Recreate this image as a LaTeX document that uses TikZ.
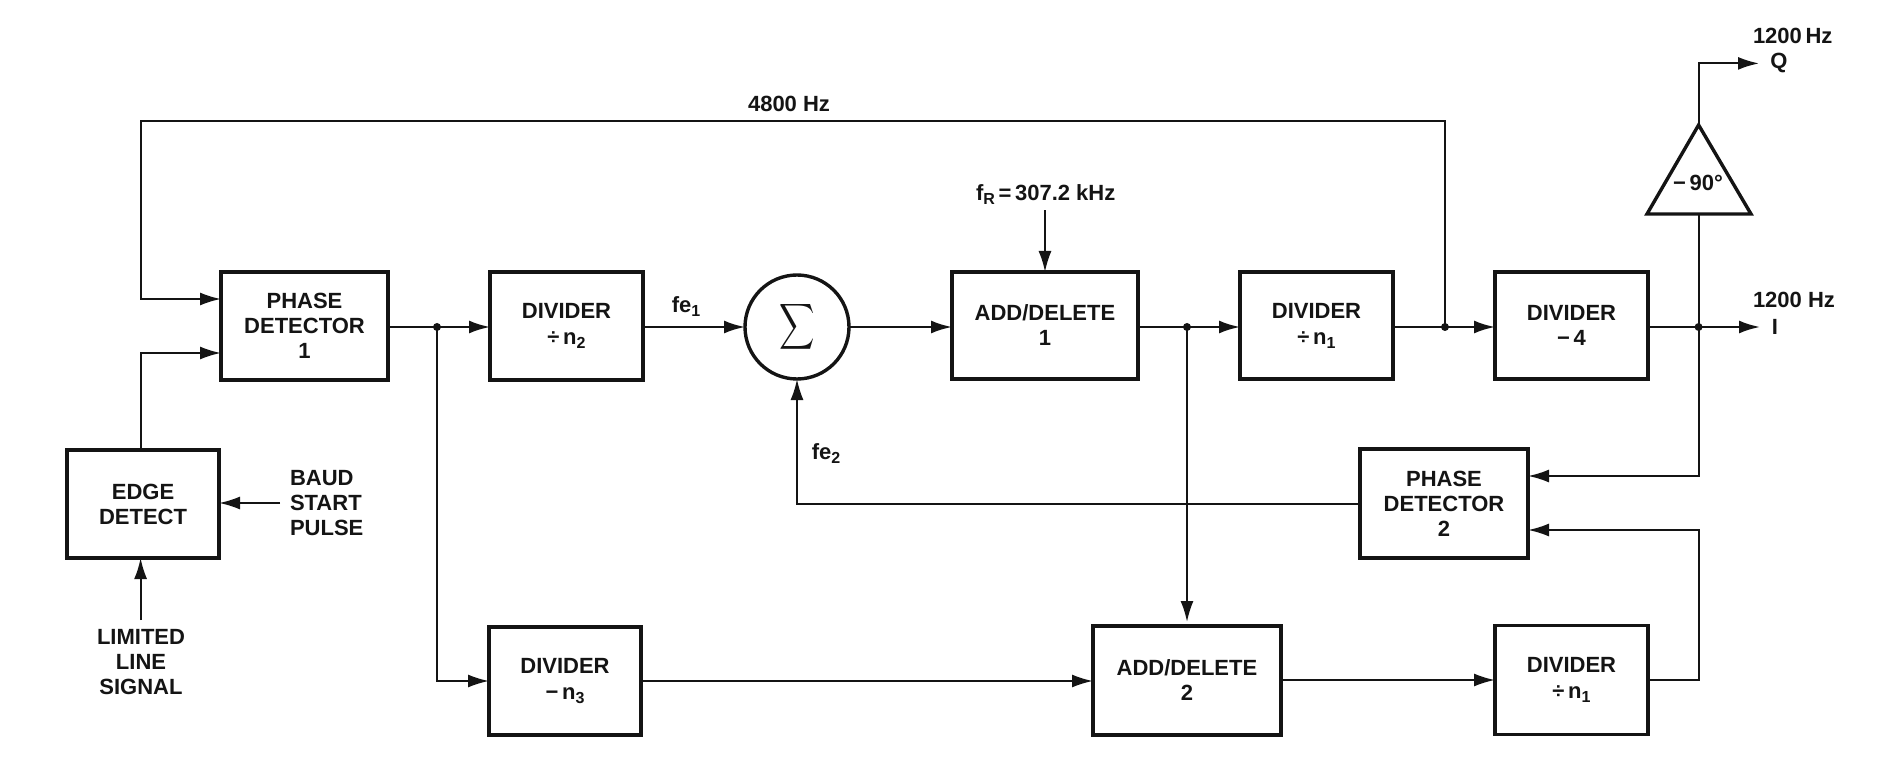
\documentclass[tikz,border=0pt]{standalone}
\usepackage{fontspec}
\usepackage{graphicx}
\setmainfont{Liberation Sans}
\usetikzlibrary{arrows.meta,calc}
\definecolor{ink}{HTML}{141414}
\newcommand{\sbs}[1]{\raisebox{-4pt}{\fontsize{16}{16}\selectfont #1}}
\tikzset{
  block/.style={draw=ink,line width=3.6pt,fill=white,inner sep=0pt,outer sep=0pt,align=center,text=ink,font=\fontsize{22}{25}\selectfont\bfseries},
  lab/.style={inner sep=0pt,outer sep=0pt,align=center,text=ink,font=\fontsize{22}{25}\selectfont\bfseries},
  wire/.style={draw=ink,line width=2pt},
  arr/.style={wire,-{Latex[length=21pt,width=13pt]}},
  dot/.style={circle,fill=ink,minimum size=8pt,inner sep=0pt,outer sep=0pt}
}
\begin{document}
\begin{tikzpicture}[x=1pt,y=-1pt]
\useasboundingbox (0,0) rectangle (1891,759);
% blocks
\node[block,minimum width=167pt,minimum height=108pt] (pd1) at (304.5,326) {PHASE\\DETECTOR\\1};
\node[block,minimum width=153pt,minimum height=108pt] (d2) at (566.5,326) {DIVIDER\\[1pt]÷\,n\sbs{2}};
\node[circle,draw=ink,line width=3.4pt,minimum size=104pt,inner sep=0pt,outer sep=0pt,text=ink] (sum) at (797,327) {\scalebox{2.45}[3.2]{$\displaystyle\sum$}};
\node[block,minimum width=186pt,minimum height=107pt] (ad1) at (1045,325.5) {ADD/DELETE\\1};
\node[block,minimum width=153pt,minimum height=107pt] (d1) at (1316.5,325.5) {DIVIDER\\[1pt]÷\,n\sbs{1}};
\node[block,minimum width=153pt,minimum height=107pt] (d4) at (1571.5,325.5) {DIVIDER\\−\,4};
\node[block,minimum width=152pt,minimum height=108pt] (ed) at (143,504) {EDGE\\DETECT};
\node[block,minimum width=168pt,minimum height=109pt] (pd2) at (1444,503.5) {PHASE\\DETECTOR\\2};
\node[block,minimum width=152pt,minimum height=108pt] (d3) at (565,681) {DIVIDER\\[1pt]−\,n\sbs{3}};
\node[block,minimum width=188pt,minimum height=109pt] (ad2) at (1187,680.5) {ADD/DELETE\\2};
\node[block,minimum width=153pt,minimum height=109pt] (d1b) at (1571.5,680) {DIVIDER\\[1pt]÷\,n\sbs{1}};
% triangle
\coordinate (ta) at (1698.6,125);
\coordinate (tl) at (1647,214);
\coordinate (tr) at (1751,214);
\coordinate (tb) at (1698.6,214);
\draw[ink,line width=3.4pt,line join=miter] (ta) -- (tl) -- (tr) -- cycle;
\node[lab] (deg) at (1698,183) {−\,90°};
% labels
\node[lab] (l4800) at (789,104) {4800 Hz};
\node[lab,anchor=west] (lq1) at (1753,36) {1200\,Hz};
\node[lab] (lq) at (1779,63) {Q};
\node[lab,anchor=west] (li1) at (1753,300) {1200 Hz};
\node[lab] (li) at (1775,327) {I};
\node[lab,anchor=west] (lfr) at (976,195) {f\sbs{R}\,=\,307.2 kHz};
\node[lab] (lfe1) at (686,307) {fe\sbs{1}};
\node[lab] (lfe2) at (826,454) {fe\sbs{2}};
\node[lab,align=left,anchor=west] (baud) at (290,503) {BAUD\\START\\PULSE};
\node[lab] (lim) at (141,662) {LIMITED\\LINE\\SIGNAL};
% helper points
\coordinate (pd1a) at (pd1.west |- 0,299);
\coordinate (pd1b) at (pd1.west |- 0,353);
\coordinate (edt) at (140.6,450);
\coordinate (j1) at (437,327);
\coordinate (j2) at (1187,327);
\coordinate (j3) at (1445,327);
\coordinate (j4) at (1698.6,327);
\coordinate (pd2a) at (pd2.east |- 0,476);
\coordinate (pd2b) at (pd2.east |- 0,530);
\coordinate (qend) at (1759,63.4);
\coordinate (iend) at (1760,327);
\coordinate (baudp) at (280,503);
\coordinate (limp) at (140.6,620);
\coordinate (frp) at (1045,210.5);
\coordinate (rise) at (1698.6,530);
% connectors
\draw[arr] (j3) -- (1445,121.5) -- (140.6,121.5) -- (140.6,299) -- (pd1a);
\draw[arr] (edt) -- (140.6,353) -- (pd1b);
\draw[arr,line width=2.4pt] (pd1.east |- j1) -- (d2.west |- j1);
\draw[arr] (j1) |- (d3.west);
\draw[arr,line width=2.4pt] (d2.east |- sum.west) -- (sum.west);
\draw[arr,line width=2.4pt] (sum.east) -- (ad1.west |- sum.east);
\draw[arr,line width=2.4pt] (ad1.east |- j2) -- (d1.west |- j2);
\draw[arr,line width=2.4pt] (d1.east |- j3) -- (d4.west |- j3);
\draw[arr,line width=2.4pt] (d4.east |- j4) -- (iend);
\draw[arr] (j2) -- (1187,622);
\draw[arr] (frp) -- (ad1.north);
\draw[arr] (baudp) -- (ed.east |- baudp);
\draw[arr] (limp) -- (ed.south -| limp);
\draw[arr] (pd2.west) -| (sum.south);
\draw[arr] (tb) -- (1698.6,476) -- (pd2a);
\draw[arr] (d1b.east) -| (rise) -- (pd2b);
\draw[arr] (ta) -- (1698.6,63.4) -- (qend);
\draw[arr] (d3.east) -- (ad2.west |- d3.east);
\draw[arr] (ad2.east |- d1b.west) -- (d1b.west);
\node[dot] (dj1) at (j1) {};
\node[dot] (dj2) at (j2) {};
\node[dot] (dj3) at (j3) {};
\node[dot] (dj4) at (j4) {};
\end{tikzpicture}
\end{document}
